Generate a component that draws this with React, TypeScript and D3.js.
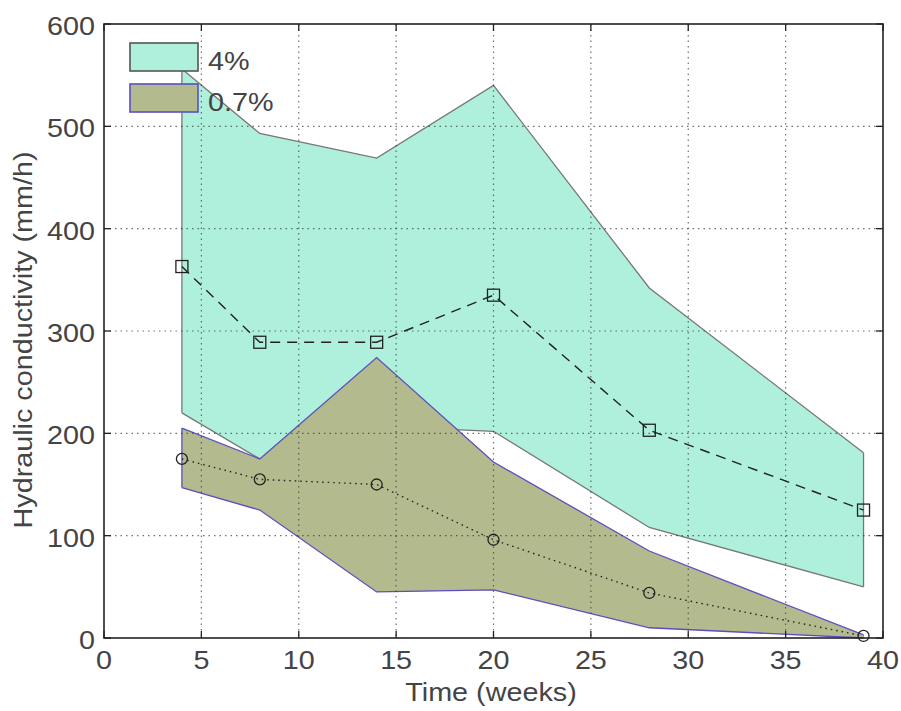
import React from 'react';
import * as d3 from 'd3';

// sampling times (weeks)
const weeks = [4, 8, 14, 20, 28, 39];

// 4% series: mean and band
const mean4 = [363, 289, 289, 335, 203, 125];
const upper4 = [556, 493, 469, 540, 342, 181];
const lower4 = [220, 175, 207, 202, 108, 50];

// 0.7% series: mean and band
const mean07 = [175, 155, 150, 96, 44, 2];
const upper07 = [205, 175, 274, 172, 85, 3];
const lower07 = [147, 125, 45, 47, 10, 0];

const xTicks = [0, 5, 10, 15, 20, 25, 30, 35, 40];
const yTicks = [0, 100, 200, 300, 400, 500, 600];

const legendItems = [
  { label: '4%', fill: '#aef0dc', stroke: '#555555' },
  { label: '0.7%', fill: '#b3ba8e', stroke: '#5a4fc0' },
];

const W = 901;
const H = 711;
const left = 104;
const right = 883;
const top = 24;
const bottom = 638;

const font = 'Liberation Sans, Arial, sans-serif';

// text drawn a bit wider than the font, as in the original figure
function Label(props: { x: number; y: number; size: number; anchor?: string; rotate?: number; children: React.ReactNode }) {
  const { x, y, size, anchor = 'start', rotate = 0, children } = props;
  return (
    <text
      transform={`translate(${x},${y}) rotate(${rotate}) scale(1.15,1)`}
      textAnchor={anchor}
      fontFamily={font}
      fontSize={size}
      fill="#444"
    >
      {children}
    </text>
  );
}

export default function App() {
  const x = d3.scaleLinear().domain([0, 40]).range([left, right]);
  const y = d3.scaleLinear().domain([0, 600]).range([bottom, top]);

  const band = (lo: number[], hi: number[]) =>
    d3.area<number>()
      .x((_, i) => x(weeks[i]))
      .y0((_, i) => y(lo[i]))
      .y1((d) => y(d))(hi) || '';
  const edge = (vals: number[]) =>
    d3.line<number>().x((_, i) => x(weeks[i])).y((d) => y(d))(vals) || '';

  return (
    <svg width={W} height={H} style={{ position: 'absolute', left: 0, top: 0, background: '#fff' }}>
      {/* 4% band */}
      <path d={band(lower4, upper4)} fill="#aef0dc" stroke="none" />
      <path d={edge(upper4)} fill="none" stroke="#777" strokeWidth={1.3} />
      <path d={edge(lower4)} fill="none" stroke="#777" strokeWidth={1.3} />
      <line x1={x(weeks[0])} x2={x(weeks[0])} y1={y(upper4[0])} y2={y(lower4[0])} stroke="#777" strokeWidth={1.3} />
      <line x1={x(weeks[5])} x2={x(weeks[5])} y1={y(upper4[5])} y2={y(lower4[5])} stroke="#777" strokeWidth={1.3} />

      {/* 0.7% band */}
      <path d={band(lower07, upper07)} fill="#b3ba8e" stroke="none" />
      <path d={edge(upper07)} fill="none" stroke="#5a4fc0" strokeWidth={1.3} />
      <path d={edge(lower07)} fill="none" stroke="#5a4fc0" strokeWidth={1.3} />
      <line x1={x(weeks[0])} x2={x(weeks[0])} y1={y(upper07[0])} y2={y(lower07[0])} stroke="#5a4fc0" strokeWidth={1.3} />

      {/* grid */}
      {xTicks.slice(1, -1).map((t) => (
        <line key={'gx' + t} x1={x(t)} x2={x(t)} y1={top} y2={bottom} stroke="#333" strokeOpacity={0.7} strokeWidth={1.2} strokeDasharray="1.5,4" />
      ))}
      {yTicks.slice(1, -1).map((t) => (
        <line key={'gy' + t} x1={left} x2={right} y1={y(t)} y2={y(t)} stroke="#333" strokeOpacity={0.7} strokeWidth={1.2} strokeDasharray="1.5,4" />
      ))}

      {/* series lines */}
      <path d={edge(mean4)} fill="none" stroke="#222" strokeWidth={1.4} strokeDasharray="10,7" />
      <path d={edge(mean07)} fill="none" stroke="#222" strokeWidth={1.4} strokeDasharray="1.5,4" />
      {mean4.map((v, i) => (
        <rect key={'s' + i} x={x(weeks[i]) - 6} y={y(v) - 6} width={12} height={12} fill="none" stroke="#222" strokeWidth={1.3} />
      ))}
      {mean07.map((v, i) => (
        <circle key={'c' + i} cx={x(weeks[i])} cy={y(v)} r={5.5} fill="none" stroke="#222" strokeWidth={1.3} />
      ))}

      {/* axes box and ticks */}
      <rect x={left} y={top} width={right - left} height={bottom - top} fill="none" stroke="#222" strokeWidth={1.6} />
      {xTicks.map((t) => (
        <g key={'tx' + t}>
          <line x1={x(t)} x2={x(t)} y1={bottom} y2={bottom - 7} stroke="#222" strokeWidth={1.3} />
          <line x1={x(t)} x2={x(t)} y1={top} y2={top + 7} stroke="#222" strokeWidth={1.3} />
          <Label x={x(t)} y={bottom + 31} size={25} anchor="middle">{t}</Label>
        </g>
      ))}
      {yTicks.map((t) => (
        <g key={'ty' + t}>
          <line x1={left} x2={left + 7} y1={y(t)} y2={y(t)} stroke="#222" strokeWidth={1.3} />
          <line x1={right} x2={right - 7} y1={y(t)} y2={y(t)} stroke="#222" strokeWidth={1.3} />
          <Label x={left - 9} y={y(t) + 11} size={25} anchor="end">{t}</Label>
        </g>
      ))}

      {/* axis titles */}
      <Label x={491} y={701} size={25} anchor="middle">Time (weeks)</Label>
      <Label x={32} y={340} size={25} anchor="middle" rotate={-90}>Hydraulic conductivity (mm/h)</Label>

      {/* legend */}
      {legendItems.map((it, i) => (
        <g key={it.label} transform={`translate(130,${43 + i * 41})`}>
          <rect x={0} y={0} width={68} height={28} fill={it.fill} stroke={it.stroke} strokeWidth={1.6} />
          <Label x={78} y={27} size={25}>{it.label}</Label>
        </g>
      ))}
    </svg>
  );
}
